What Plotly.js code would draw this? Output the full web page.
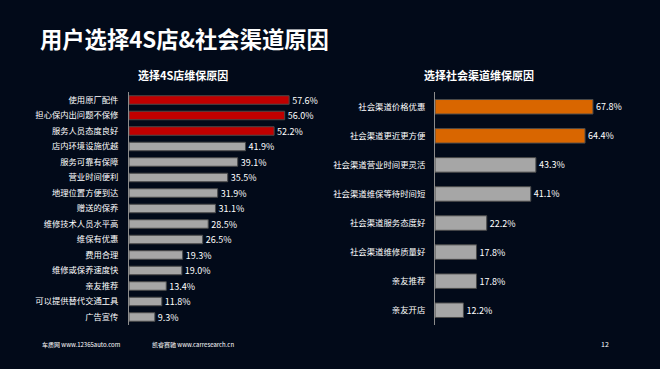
<!DOCTYPE html>
<html><head><meta charset="utf-8">
<script src="https://cdn.plot.ly/plotly-3.0.1.min.js"></script>
<style>html,body{margin:0;padding:0;background:#020a19;}#c{width:660px;height:369px;}</style>
</head><body><div id="c"></div>
<script>
const leftCats = ["使用原厂配件","担心保内出问题不保修","服务人员态度良好","店内环境设施优越","服务可靠有保障","营业时间便利","地理位置方便到达","赠送的保养","维修技术人员水平高","维保有优惠","费用合理","维修或保养速度快","亲友推荐","可以提供替代交通工具","广告宣传"];
const leftVals = [57.6,56.0,52.2,41.9,39.1,35.5,31.9,31.1,28.5,26.5,19.3,19.0,13.4,11.8,9.3];
const rightCats = ["社会渠道价格优惠","社会渠道更近更方便","社会渠道营业时间更灵活","社会渠道维保等待时间短","社会渠道服务态度好","社会渠道维修质量好","亲友推荐","亲友开店"];
const rightVals = [67.8,64.4,43.3,41.1,22.2,17.8,17.8,12.2];
const leftHighlight = 3, rightHighlight = 2;

const F = '"Noto Sans CJK SC", "Microsoft YaHei", sans-serif';
const leftColors = leftVals.map((v,i)=> i<leftHighlight ? '#c00000' : '#a6a6a6');
const rightColors = rightVals.map((v,i)=> i<rightHighlight ? '#d96600' : '#a6a6a6');

const traces = [
 {type:'bar', orientation:'h', x:leftVals, y:leftCats, xaxis:'x', yaxis:'y',
  marker:{color:leftColors, line:{color:'#4a4a4a', width:1}}, width:0.55,
  text:leftVals.map(v=>v.toFixed(1)+'%'), textposition:'outside', cliponaxis:false, constraintext:'none',
  textfont:{color:'#ffffff', size:9, family:F}, hoverinfo:'none'},
 {type:'bar', orientation:'h', x:rightVals, y:rightCats, xaxis:'x2', yaxis:'y2',
  marker:{color:rightColors, line:{color:'#4a4a4a', width:1}}, width:0.5,
  text:rightVals.map(v=>v.toFixed(1)+'%'), textposition:'outside', cliponaxis:false, constraintext:'none',
  textfont:{color:'#ffffff', size:9, family:F}, hoverinfo:'none'}
];

const yd = [1-324.75/369, 1-92.25/369];
const layout = {
 width:660, height:369, margin:{l:0,r:0,t:0,b:0},
 paper_bgcolor:'#020a19', plot_bgcolor:'rgba(0,0,0,0)',
 showlegend:false, font:{family:F, color:'#ffffff'},
 xaxis:{domain:[129/660,(129+64*2.78)/660], range:[0,64], visible:false, fixedrange:true},
 yaxis:{domain:yd, anchor:'x', autorange:'reversed', showline:true, linecolor:'#8c8c8c', linewidth:1,
   showgrid:false, ticks:'outside', ticklen:8, tickcolor:'rgba(0,0,0,0)', tickfont:{size:8.3, color:'#ffffff', family:F}},
 xaxis2:{domain:[435/660,(435+75*2.33)/660], range:[0,75], visible:false, fixedrange:true},
 yaxis2:{domain:yd, anchor:'x2', autorange:'reversed', showline:true, linecolor:'#8c8c8c', linewidth:1,
   showgrid:false, ticks:'outside', ticklen:7, tickcolor:'rgba(0,0,0,0)', tickfont:{size:8.4, color:'#ffffff', family:F}},
 annotations:[
  {text:'<b>用户选择4S店&社会渠道原因</b>', xref:'paper', yref:'paper', x:38/660, y:1-38/369, xanchor:'left', yanchor:'middle', showarrow:false, font:{size:22.3, color:'#ffffff', family:F}},
  {text:'<b>选择4S店维保原因</b>', xref:'paper', yref:'paper', x:183/660, y:1-75/369, xanchor:'center', yanchor:'middle', showarrow:false, font:{size:11, color:'#ffffff', family:F}},
  {text:'<b>选择社会渠道维保原因</b>', xref:'paper', yref:'paper', x:479/660, y:1-75/369, xanchor:'center', yanchor:'middle', showarrow:false, font:{size:11, color:'#ffffff', family:F}},
  {text:'车质网 www.12365auto.com', xref:'paper', yref:'paper', x:40/660, y:1-344/369, xanchor:'left', yanchor:'middle', showarrow:false, font:{size:6, color:'#ffffff', family:F}},
  {text:'凯睿赛驰 www.carresearch.cn', xref:'paper', yref:'paper', x:150/660, y:1-344/369, xanchor:'left', yanchor:'middle', showarrow:false, font:{size:6, color:'#ffffff', family:F}},
  {text:'12', xref:'paper', yref:'paper', x:605/660, y:1-344/369, xanchor:'center', yanchor:'middle', showarrow:false, font:{size:7, color:'#ffffff', family:F}}
 ]
};
Plotly.newPlot('c', traces, layout, {staticPlot:true, displayModeBar:false});
</script></body></html>
